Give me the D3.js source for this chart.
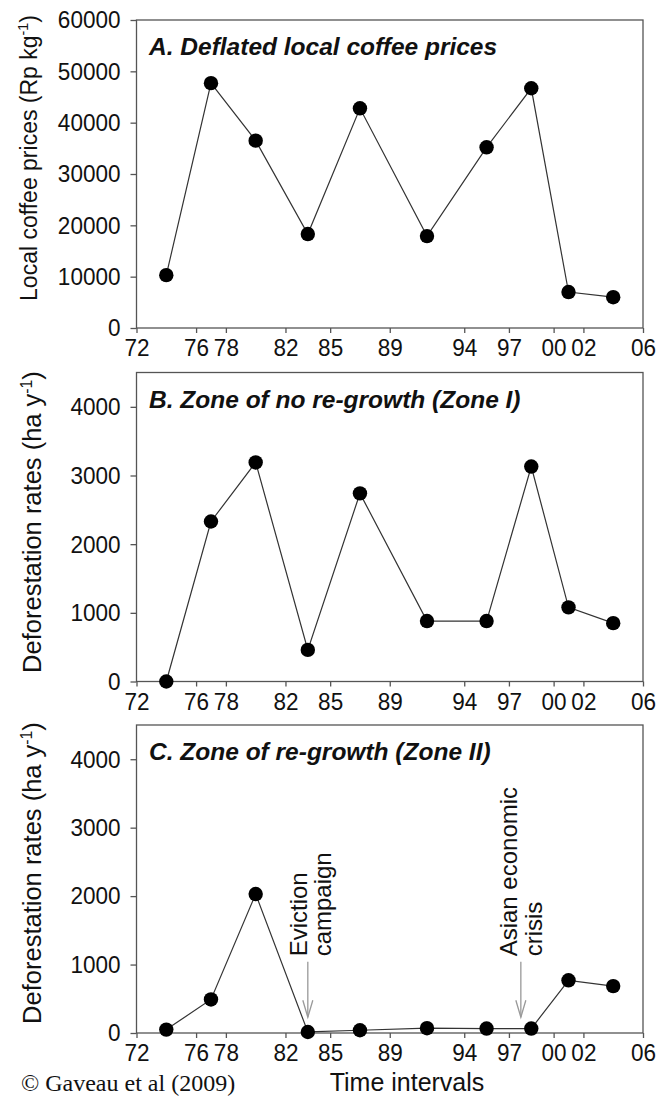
<!DOCTYPE html>
<html><head><meta charset="utf-8">
<script src="https://cdn.jsdelivr.net/npm/d3@7"></script>
<style>body{margin:0;background:#fff}svg{display:block}
.xt text{transform-box:fill-box;transform-origin:center;transform:scale(0.92,1)}
.yt text{transform-box:fill-box;transform-origin:right center;transform:scale(0.92,1)}
</style>
</head><body>
<script>
// ---- data ----
const tickYears = [1972,1976,1978,1982,1985,1989,1994,1997,2000,2002,2006];
const tickLabels = ["72","76","78","82","85","89","94","97","00","02","06"];
const intervalMidYears = [1974,1977,1980,1983.5,1987,1991.5,1995.5,1998.5,2001,2004];
const coffeePrices = [10300,47700,36500,18300,42800,17900,35200,46700,7000,6000];
const zoneIRates = [0,2330,3190,460,2740,880,880,3130,1080,850];
const zoneIIRates = [50,490,2030,15,40,70,65,65,770,685];
const priceTicks = [0,10000,20000,30000,40000,50000,60000];
const rateTicks = [0,1000,2000,3000,4000];
const panelTitles = ["A. Deflated local coffee prices","B. Zone of no re-growth (Zone I)","C. Zone of re-growth (Zone II)"];
const annotationYears = [1983.5, 1997.8];
const annotationLines = [["Eviction","campaign"],["Asian economic","crisis"]];
const arrowFrom = 1040, arrowTo = 230, annotationTextStart = 1120;

// ---- layout ----
const W = 656, H = 1104;
const FONT = "'Liberation Sans', Arial, sans-serif";
const svg = d3.select("body").append("svg").attr("width", W).attr("height", H)
  .style("font-family", FONT);

const x = d3.scaleLinear().domain([1972, 2006]).range([136.5, 643]);

const panels = [
  {top: 20, bottom: 328, max: 60000, ticks: priceTicks, values: coffeePrices,
   label: ["Local coffee prices (Rp kg", ")"], labelX: 37, labelY: 158, labelSize: 23},
  {top: 372.5, bottom: 681.5, max: 4500, ticks: rateTicks, values: zoneIRates,
   label: ["Deforestation rates (ha y", ")"], labelX: 41, labelY: 522, labelSize: 25.5},
  {top: 725, bottom: 1033, max: 4500, ticks: rateTicks, values: zoneIIRates,
   label: ["Deforestation rates (ha y", ")"], labelX: 41, labelY: 873, labelSize: 25.5}
];

const axisColor = "#555";

panels.forEach((p, i) => {
  const y = d3.scaleLinear().domain([0, p.max]).range([p.bottom, p.top]);
  const g = svg.append("g");

  // frame
  g.append("rect").attr("x", x.range()[0]).attr("y", p.top)
    .attr("width", x.range()[1] - x.range()[0]).attr("height", p.bottom - p.top)
    .attr("fill", "none").attr("stroke", axisColor).attr("stroke-width", 1.3);

  // y axis
  const ya = g.append("g").attr("class", "yt").attr("transform", `translate(${x.range()[0]},0)`)
    .call(d3.axisLeft(y).tickValues(p.ticks).tickSize(6).tickPadding(10).tickFormat(d3.format("d")));
  ya.select(".domain").remove();
  ya.selectAll("line").attr("stroke", axisColor).attr("stroke-width", 1.3);
  ya.selectAll("text").attr("fill", "#111").style("font-size", "24.5px").style("font-family", FONT);

  // x axis
  const xa = g.append("g").attr("class", "xt").attr("transform", `translate(0,${p.bottom})`)
    .call(d3.axisBottom(x).tickValues(tickYears).tickSize(5).tickPadding(6)
      .tickFormat((d, k) => tickLabels[k]));
  xa.select(".domain").remove();
  xa.selectAll("line").attr("stroke", axisColor).attr("stroke-width", 1.3);
  xa.selectAll("text").attr("fill", "#111").style("font-size", "24.5px").style("font-family", FONT);

  // title
  g.append("text").attr("x", 149).attr("y", p.top + 35)
    .style("font-size", "24.5px").style("font-weight", "bold").style("font-style", "italic")
    .attr("fill", "#111").text(panelTitles[i]);

  // y label
  const lt = g.append("text").attr("transform", `translate(${p.labelX},${p.labelY}) rotate(-90)`)
    .attr("text-anchor", "middle").style("font-size", p.labelSize + "px").attr("fill", "#111");
  lt.append("tspan").text(p.label[0]);
  lt.append("tspan").attr("dy", -9).style("font-size", (p.labelSize * 0.62) + "px").text("-1");
  lt.append("tspan").attr("dy", 9).text(p.label[1]);

  // line
  const line = d3.line().x((d, k) => x(intervalMidYears[k])).y(d => y(d));
  g.append("path").datum(p.values).attr("d", line)
    .attr("fill", "none").attr("stroke", "#333").attr("stroke-width", 1.2);

  // points
  g.selectAll("circle.pt").data(p.values).enter().append("circle").attr("class", "pt")
    .attr("cx", (d, k) => x(intervalMidYears[k])).attr("cy", d => y(d)).attr("r", 7.2)
    .attr("fill", "#000");

  // annotations on panel C
  if (i === 2) {
    annotationYears.forEach((yr, a) => {
      const ax = x(yr), y0 = y(arrowFrom), y1 = y(arrowTo);
      g.append("line").attr("x1", ax).attr("x2", ax).attr("y1", y0).attr("y2", y1)
        .attr("stroke", "#999").attr("stroke-width", 1.3);
      g.append("path").attr("d", `M${ax - 5},${y1 - 17}L${ax},${y1}L${ax + 5},${y1 - 17}`)
        .attr("fill", "none").attr("stroke", "#999").attr("stroke-width", 1.3);
      const lines = annotationLines[a];
      const offs = a === 0 ? [-1, 23] : [-4, 21];
      lines.forEach((s, j) => {
        g.append("text")
          .attr("transform", `translate(${ax + offs[j]},${y(annotationTextStart)}) rotate(-90)`)
          .attr("text-anchor", "start").style("font-size", "24px").attr("fill", "#111").text(s);
      });
    });
  }
});

// footer
svg.append("text").attr("x", 21).attr("y", 1091)
  .style("font-family", "'Liberation Serif', 'Times New Roman', serif").style("font-size", "24px")
  .attr("fill", "#111").text("\u00A9 Gaveau et al (2009)");
svg.append("text").attr("x", 407).attr("y", 1091).attr("text-anchor", "middle")
  .style("font-size", "25px").attr("fill", "#111").text("Time intervals");
</script>
</body></html>
